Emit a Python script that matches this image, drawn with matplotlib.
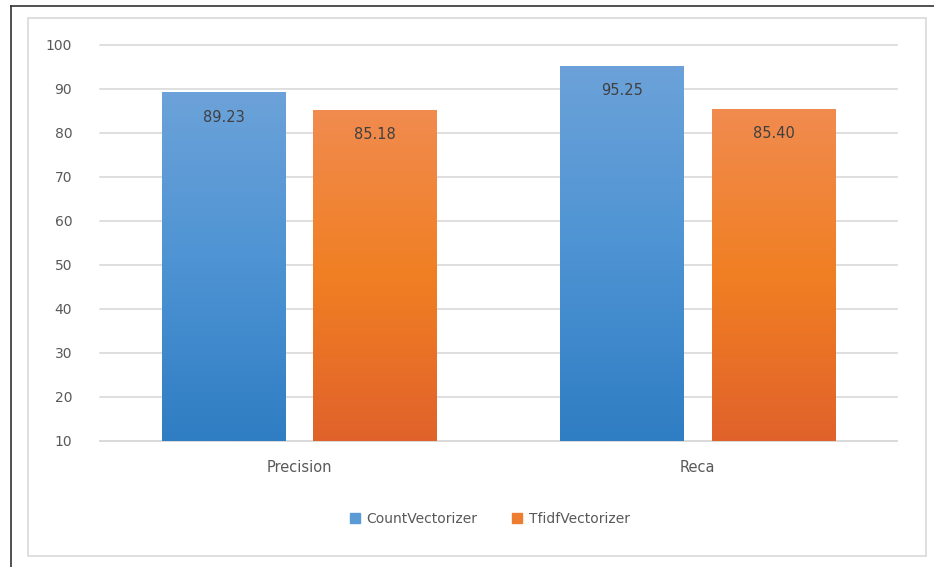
import numpy as np
import matplotlib
matplotlib.use("Agg")
from matplotlib import pyplot as plt
from matplotlib.patches import Rectangle
from matplotlib.lines import Line2D
from matplotlib.colors import LinearSegmentedColormap

# data
categories = ["Precision", "Reca"]
count_vec = [89.23, 95.25]
tfidf_vec = [85.18, 85.40]
series_names = ["CountVectorizer", "TfidfVectorizer"]
y_ticks = [10, 20, 30, 40, 50, 60, 70, 80, 90, 100]

blue_cmap = LinearSegmentedColormap.from_list("blue", ["#6ca2d9", "#4d93d3", "#2f7dc3"])
orange_cmap = LinearSegmentedColormap.from_list("orange", ["#f08b4f", "#f17f23", "#e0622b"])

fig = plt.figure(figsize=(9.34, 5.67), dpi=100)
fig.patch.set_facecolor("white")

# outer frame (dark) and chart area border (light gray)
fig.add_artist(Line2D([11/934, 1.0], [1 - 6/567, 1 - 6/567], color="#333333", lw=1.2))
fig.add_artist(Line2D([11/934, 11/934], [0, 1 - 6/567], color="#333333", lw=1.2))
fig.add_artist(Rectangle((28/934, 1 - 556/567), (926 - 28)/934, (556 - 18)/567,
                         fill=False, edgecolor="#d9d9d9", lw=1.2))

ax = fig.add_axes([100/934, 1 - 441/567, (897 - 100)/934, (441 - 45)/567])

x = np.arange(len(categories))
width = 0.31
offset = 0.19

bars_a = ax.bar(x - offset, [v - 10 for v in count_vec], width, bottom=10,
                color="none", edgecolor="none", label=series_names[0], zorder=3)
bars_b = ax.bar(x + offset, [v - 10 for v in tfidf_vec], width, bottom=10,
                color="none", edgecolor="none", label=series_names[1], zorder=3)

grad = np.linspace(0, 1, 256).reshape(-1, 1)
for bars, cmap, vals in [(bars_a, blue_cmap, count_vec), (bars_b, orange_cmap, tfidf_vec)]:
    for bar, v in zip(bars, vals):
        x0 = bar.get_x()
        img = ax.imshow(grad, cmap=cmap, aspect="auto", origin="upper",
                        extent=[x0, x0 + bar.get_width(), 10, v], zorder=3)
        img.set_clip_path(bar)
        ax.text(x0 + bar.get_width() / 2, v - 5.6, f"{v:.2f}", ha="center", va="center",
                fontsize=10.5, color="#404040", zorder=4)

ax.set_xlim(-0.5, 1.5)
ax.set_ylim(10, 100)
ax.set_yticks(y_ticks)
ax.set_yticklabels([str(t) for t in y_ticks])
ax.set_xticks(x)
ax.set_xticklabels(categories)
ax.yaxis.grid(True, color="#d9d9d9", lw=1.2, zorder=0)
for gl in ax.get_ygridlines():
    gl.set_clip_on(False)
ax.set_axisbelow(True)
for s in ["top", "right", "left"]:
    ax.spines[s].set_visible(False)
ax.spines["bottom"].set_color("#d9d9d9")
ax.spines["bottom"].set_linewidth(1.2)
ax.tick_params(axis="y", length=0, pad=20, labelsize=10, labelcolor="#595959")
ax.tick_params(axis="x", length=0, pad=14, labelsize=10.5, labelcolor="#595959")

handles = [Rectangle((0, 0), 1, 1, color="#5b9bd5"), Rectangle((0, 0), 1, 1, color="#ed7d31")]
fig.legend(handles, series_names, loc="center", bbox_to_anchor=(490/934, 1 - 519/567),
           ncol=2, frameon=False, fontsize=10, labelcolor="#595959",
           handlelength=0.7, handleheight=0.7, columnspacing=2.5, handletextpad=0.5)

fig.savefig("out.png", dpi=100)
